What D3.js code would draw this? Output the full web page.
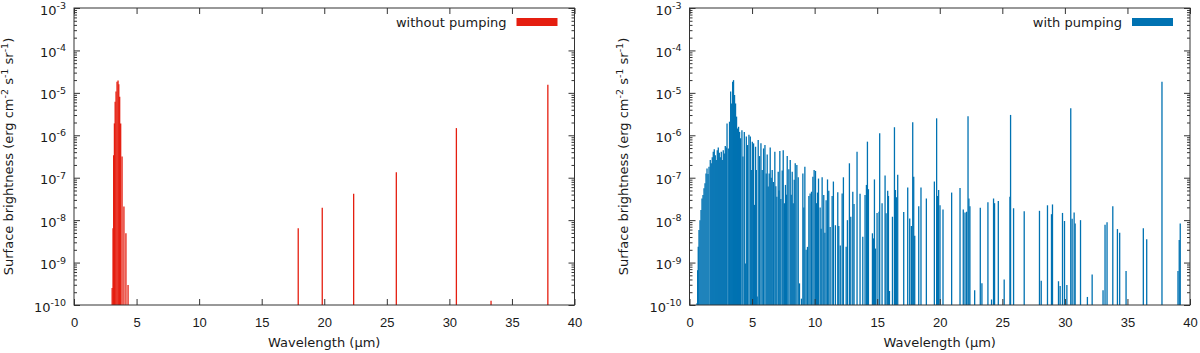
<!DOCTYPE html>
<html lang="en">
<head>
<meta charset="utf-8">
<style>
    body { margin: 0; background: #fff; }
    #mainSVG { display: block; font-family: "DejaVu Sans", sans-serif; }
    .tlabel { font-size: 13px; fill: #1a1a1a; }
    .axis path { display: none; }
    .axis line { stroke: #333; }
</style>
</head>
<body>
<svg id="mainSVG" width="1200" height="353"></svg>
<script src="https://cdn.jsdelivr.net/npm/d3@7"></script>
<script>

    // x ticks (micron) and y decades (log10 of erg cm-2 s-1 sr-1)
    var xTicks = [0, 5, 10, 15, 20, 25, 30, 35, 40];
    var yDecades = [-10, -9, -8, -7, -6, -5, -4, -3];

    // without pumping: wavelength (um) and log10 surface brightness
    var leftWave = [3.05, 3.12, 3.17, 3.23, 3.29, 3.36, 3.44, 3.52, 3.58, 3.65,
        3.73, 3.84, 3.99, 4.15, 4.32, 17.92, 19.84, 22.35, 25.76, 30.56, 33.33, 37.87];
    var leftLogSB = [-9.6, -8.19, -6.47, -5.72, -5.21, -4.97, -4.74, -4.71, -4.80, -5.09,
        -5.72, -6.50, -7.68, -8.31, -9.53, -8.19, -7.71, -7.38, -6.87, -5.83, -9.9, -4.81];

    // with pumping
    var rightWave = [
        0.60, 0.65, 0.70, 0.76, 0.84, 0.92, 1.00, 1.08, 1.16, 1.24,
        1.32, 1.40, 1.48, 1.56, 1.66, 1.74, 1.82, 1.90, 1.98, 2.06,
        2.14, 2.22, 2.30, 2.38, 2.46, 2.54, 2.62, 2.70, 2.78, 2.86,
        2.94, 3.00, 3.10, 3.20, 3.29, 3.37, 3.45, 3.52, 3.60, 3.68,
        3.76, 3.84, 3.92, 4.00, 4.08, 4.19, 4.27, 4.38, 4.46, 4.54,
        4.64, 4.75, 4.86, 4.94, 5.02, 5.12, 5.20, 5.28, 5.34, 5.41,
        5.49, 5.60, 5.71, 5.81, 5.92, 6.03, 6.13, 6.21, 6.29, 6.37,
        6.45, 6.53, 6.61, 6.70, 6.82, 6.90, 6.98, 7.09, 7.15, 7.22,
        7.30, 7.41, 7.49, 7.58, 7.67, 7.75, 7.81, 7.94, 8.05, 8.13,
        8.21, 8.29, 8.37, 8.45, 8.58, 8.69, 8.79, 8.95, 9.06, 9.14,
        9.22, 9.32, 9.43, 9.54, 9.64, 9.75, 9.86, 9.96, 10.07, 10.15,
        10.23, 10.31, 10.44, 10.52, 10.60, 10.73, 10.82, 10.92, 11.03, 11.13,
        11.24, 11.40, 11.50, 11.66, 11.85, 11.93, 12.05, 12.20, 12.30, 12.52,
        12.62, 12.78, 12.89, 13.05, 13.15, 13.39, 13.63, 13.85, 14.03, 14.14,
        14.22, 14.30, 14.62, 14.70, 14.78, 14.86, 14.99, 15.15, 15.20, 15.39,
        15.63, 15.71, 15.84, 15.90, 15.98, 16.22, 16.38, 16.46, 16.54, 16.64,
        17.12, 17.44, 17.60, 17.73, 17.84, 17.92, 18.00, 18.32, 18.50, 18.93,
        19.57, 19.75, 19.83, 19.91, 20.02, 20.26, 20.95, 21.62, 21.88, 22.02,
        22.15, 22.26, 22.33, 22.41, 22.79, 23.24, 23.37, 23.85, 24.14, 24.30,
        24.38, 24.68, 25.15, 25.61, 25.66, 25.90, 26.75, 27.97, 28.11, 28.61,
        28.93, 29.01, 29.49, 29.62, 29.81, 29.97, 30.16, 30.47, 30.58, 30.74,
        30.82, 31.25, 31.80, 32.18, 33.05, 33.21, 33.37, 33.83, 34.20, 34.38,
        34.89, 36.27, 36.54, 37.76, 39.04, 39.14, 39.22];
    var rightLogSB = [
        -9.96, -9.18, -8.63, -8.23, -8.00, -7.76, -7.49, -7.41, -7.25, -7.13,
        -6.90, -6.78, -6.91, -6.74, -6.58, -6.66, -6.52, -6.39, -6.33, -6.47,
        -6.58, -6.35, -6.29, -6.41, -6.52, -6.39, -6.58, -6.35, -6.43, -6.25,
        -6.29, -5.72, -6.31, -5.68, -4.97, -5.25, -4.74, -4.70, -5.05, -5.25,
        -5.56, -5.84, -5.80, -5.92, -6.07, -5.88, -6.50, -5.92, -9.02, -6.03,
        -6.23, -5.99, -6.03, -6.82, -6.15, -6.19, -7.64, -6.27, -6.82, -9.80,
        -6.11, -6.49, -6.19, -6.82, -6.31, -6.23, -6.90, -6.45, -7.21, -6.90,
        -6.29, -7.00, -6.82, -7.10, -6.39, -7.20, -7.45, -6.86, -7.30, -6.37,
        -7.50, -6.83, -6.35, -7.60, -7.17, -7.40, -6.49, -6.80, -6.58, -7.40,
        -6.86, -7.60, -7.05, -6.66, -6.70, -6.99, -9.49, -9.85, -6.90, -7.70,
        -6.74, -8.70, -8.63, -7.43, -7.37, -7.33, -6.98, -6.82, -6.84, -7.60,
        -7.35, -7.02, -7.70, -8.20, -6.99, -7.41, -8.30, -7.53, -7.04, -7.31,
        -8.16, -7.43, -7.09, -8.12, -7.34, -8.14, -8.60, -7.37, -6.99, -8.63,
        -8.00, -6.66, -7.92, -7.33, -7.62, -6.39, -7.38, -8.39, -7.41, -7.17,
        -6.15, -7.27, -8.31, -8.43, -7.04, -8.67, -7.83, -7.80, -5.95, -7.60,
        -6.95, -7.84, -7.31, -7.43, -9.67, -7.92, -5.81, -7.29, -7.46, -6.93,
        -7.81, -7.23, -7.96, -8.14, -5.69, -6.98, -8.37, -7.67, -7.23, -7.49,
        -7.09, -5.60, -7.43, -7.29, -7.65, -7.75, -7.35, -7.24, -7.75, -7.82,
        -7.80, -5.55, -7.49, -7.67, -9.65, -7.71, -9.49, -7.58, -9.87, -7.49,
        -7.60, -7.55, -9.40, -7.45, -5.52, -7.72, -7.79, -7.78, -9.43, -7.65,
        -7.86, -7.63, -9.44, -9.55, -7.83, -8.02, -9.53, -5.36, -7.97, -7.82,
        -8.08, -8.00, -9.81, -9.28, -9.65, -8.11, -8.05, -7.67, -8.21, -8.30,
        -9.20, -8.19, -8.45, -4.74, -9.20, -8.47, -8.08];

    var svg = d3.select("#mainSVG");

    function drawPanel(cfg) {
        var x = d3.scaleLinear().domain([0, 40]).range([cfg.x0, cfg.x1]);
        var y = d3.scaleLog().domain([1e-10, 1e-3]).range([305, 8]);

        var lines = cfg.wave.map(function (w, i) { return { w: w, v: Math.pow(10, cfg.logv[i]) }; });

        var g = svg.append("g");

        g.selectAll("line.bar")
            .data(lines)
            .enter().append("line")
            .attr("class", "bar")
            .attr("x1", function (d) { return x(d.w); })
            .attr("x2", function (d) { return x(d.w); })
            .attr("y1", y(1e-10))
            .attr("y2", function (d) { return y(d.v); })
            .attr("stroke", cfg.color)
            .attr("stroke-width", 1.3);

        // x axis, bottom with labels, top mirrored
        g.append("g").attr("class", "axis")
            .attr("transform", "translate(0,305)")
            .call(d3.axisBottom(x).tickValues(xTicks).tickSize(-6).tickPadding(13))
            .selectAll("text").attr("class", "tlabel").attr("fill", null);
        g.append("g").attr("class", "axis")
            .attr("transform", "translate(0,8)")
            .call(d3.axisTop(x).tickValues(xTicks).tickSize(-6).tickFormat(""));

        var minors = [];
        yDecades.slice(0, -1).forEach(function (e) {
            for (var k = 2; k <= 9; k++) minors.push(k * Math.pow(10, e));
        });
        var majors = yDecades.map(function (e) { return Math.pow(10, e); });

        [[d3.axisLeft, cfg.x0], [d3.axisRight, cfg.x1]].forEach(function (a) {
            g.append("g").attr("class", "axis")
                .attr("transform", "translate(" + a[1] + ",0)")
                .call(a[0](y).tickValues(majors).tickSize(-6).tickFormat(""));
            g.append("g").attr("class", "axis")
                .attr("transform", "translate(" + a[1] + ",0)")
                .call(a[0](y).tickValues(minors).tickSize(-3).tickFormat(""));
        });

        // y tick labels 10^n
        var yl = g.append("g");
        yDecades.forEach(function (e) {
            var t = yl.append("text")
                .attr("class", "tlabel")
                .attr("text-anchor", "end")
                .attr("x", cfg.x0 - 8)
                .attr("y", y(Math.pow(10, e)) + 6.5);
            t.append("tspan").text("10");
            t.append("tspan").attr("dy", -5.5).attr("font-size", "9.5px").text(String(e).replace("-", "-"));
        });

        // frame
        g.append("rect")
            .attr("x", cfg.x0).attr("y", 8)
            .attr("width", cfg.x1 - cfg.x0).attr("height", 297)
            .attr("fill", "none").attr("stroke", "#333");

        // axis titles
        g.append("text")
            .attr("class", "tlabel")
            .attr("text-anchor", "middle")
            .attr("x", (cfg.x0 + cfg.x1) / 2)
            .attr("y", 347)
            .text("Wavelength (\u00b5m)");

        var yt = g.append("text")
            .attr("class", "tlabel")
            .attr("text-anchor", "middle")
            .attr("transform", "translate(" + cfg.ylabX + ",156.5) rotate(-90)");
        yt.append("tspan").text("Surface brightness (erg cm");
        yt.append("tspan").attr("dy", -5).attr("font-size", "9.5px").text("-2");
        yt.append("tspan").attr("dy", 5).text(" s");
        yt.append("tspan").attr("dy", -5).attr("font-size", "9.5px").text("-1");
        yt.append("tspan").attr("dy", 5).text(" sr");
        yt.append("tspan").attr("dy", -5).attr("font-size", "9.5px").text("-1");
        yt.append("tspan").attr("dy", 5).text(")");

        // legend
        g.append("text")
            .attr("class", "tlabel")
            .attr("text-anchor", "end")
            .attr("x", cfg.x1 - 68)
            .attr("y", 26.5)
            .text(cfg.label);
        g.append("rect")
            .attr("x", cfg.x1 - 58).attr("y", 18)
            .attr("width", 41).attr("height", 8)
            .attr("fill", cfg.color);
    }

    drawPanel({ x0: 74, x1: 574.5, ylabX: 13, wave: leftWave, logv: leftLogSB, color: "#e51e10", label: "without pumping" });
    drawPanel({ x0: 689.5, x1: 1190, ylabX: 628, wave: rightWave, logv: rightLogSB, color: "#0072b2", label: "with pumping" });

</script>
</body>
</html>
